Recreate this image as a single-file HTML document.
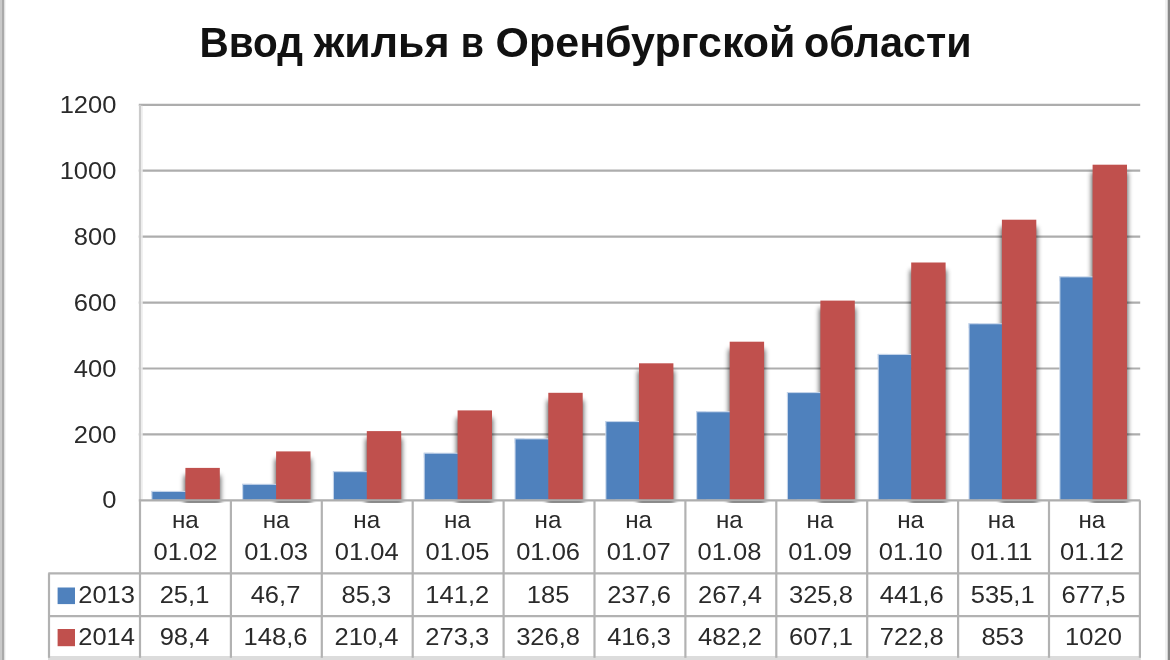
<!DOCTYPE html>
<html lang="ru">
<head>
<meta charset="utf-8">
<title>Ввод жилья в Оренбургской области</title>
<style>
html,body{margin:0;padding:0;background:#fff;}
body{width:1170px;height:660px;overflow:hidden;}
svg{display:block;}
text{font-family:"Liberation Sans",sans-serif;fill:#2a2a2a;}
.t{font-weight:bold;font-size:41.9px;fill:#111;}
.n{font-size:24.2px;}
.g{stroke:#adadad;stroke-width:2.2;}
.v{stroke:#c4c4c4;stroke-width:2.4;}
.tb{stroke:#b2b2b2;stroke-width:2.2;}
</style>
</head>
<body>
<svg width="1170" height="660" viewBox="0 0 1170 660">
<defs>
<filter id="sh" filterUnits="userSpaceOnUse" x="0" y="0" width="1170" height="660"><feGaussianBlur stdDeviation="2.6"/></filter>
</defs>
<rect x="0" y="0" width="1170" height="660" fill="#ffffff"/>
<rect x="0" y="0" width="2" height="660" fill="#c9c9c9"/>
<rect x="2" y="0" width="2.3" height="660" fill="#aaaaaa"/>
<rect x="4.3" y="0" width="1" height="660" fill="#dedede"/>
<rect x="1168" y="0" width="2" height="660" fill="#888888"/>
<rect x="1167" y="0" width="1" height="660" fill="#d4d4d4"/>
<rect x="1165" y="0" width="2" height="660" fill="#f1f1f1"/>

<text class="t" x="199.5" y="57.0" textLength="103.5" lengthAdjust="spacingAndGlyphs">Ввод</text>
<text class="t" x="313.8" y="57.0" textLength="135.9" lengthAdjust="spacingAndGlyphs">жилья</text>
<text class="t" x="460.8" y="57.0" textLength="23.2" lengthAdjust="spacingAndGlyphs">в</text>
<text class="t" x="495.6" y="57.0" textLength="299.9" lengthAdjust="spacingAndGlyphs">Оренбургской</text>
<text class="t" x="804.1" y="57.0" textLength="167.5" lengthAdjust="spacingAndGlyphs">области</text>
<line class="g" x1="138.8" y1="104.8" x2="1140.2" y2="104.8"/>
<text class="n" transform="translate(116.4 112.9) scale(1.055 1)" text-anchor="end">1200</text>
<line class="g" x1="138.8" y1="170.7" x2="1140.2" y2="170.7"/>
<text class="n" transform="translate(116.4 178.8) scale(1.055 1)" text-anchor="end">1000</text>
<line class="g" x1="138.8" y1="236.6" x2="1140.2" y2="236.6"/>
<text class="n" transform="translate(116.4 244.7) scale(1.055 1)" text-anchor="end">800</text>
<line class="g" x1="138.8" y1="302.6" x2="1140.2" y2="302.6"/>
<text class="n" transform="translate(116.4 310.7) scale(1.055 1)" text-anchor="end">600</text>
<line class="g" x1="138.8" y1="368.5" x2="1140.2" y2="368.5"/>
<text class="n" transform="translate(116.4 376.6) scale(1.055 1)" text-anchor="end">400</text>
<line class="g" x1="138.8" y1="434.4" x2="1140.2" y2="434.4"/>
<text class="n" transform="translate(116.4 442.5) scale(1.055 1)" text-anchor="end">200</text>
<text class="n" transform="translate(116.4 508.4) scale(1.055 1)" text-anchor="end">0</text>
<rect x="138.9" y="104.8" width="2.2" height="395.5" fill="#cbcbcb"/>
<rect x="141.1" y="105.8" width="1.6" height="393.5" fill="#ececec"/>
<clipPath id="pc"><rect x="140.0" y="90" width="1006.2" height="412.8"/></clipPath>
<g clip-path="url(#pc)">
<rect x="184.2" y="475.4" width="36.6" height="35.4" fill="#000" opacity="0.6" filter="url(#sh)"/>
<rect x="274.9" y="458.9" width="36.6" height="51.9" fill="#000" opacity="0.6" filter="url(#sh)"/>
<rect x="365.6" y="438.6" width="36.6" height="72.2" fill="#000" opacity="0.6" filter="url(#sh)"/>
<rect x="456.4" y="417.9" width="36.6" height="92.9" fill="#000" opacity="0.6" filter="url(#sh)"/>
<rect x="547.1" y="400.3" width="36.6" height="110.5" fill="#000" opacity="0.6" filter="url(#sh)"/>
<rect x="637.8" y="370.8" width="36.6" height="140.0" fill="#000" opacity="0.6" filter="url(#sh)"/>
<rect x="728.5" y="349.2" width="36.6" height="161.6" fill="#000" opacity="0.6" filter="url(#sh)"/>
<rect x="819.2" y="308.1" width="36.6" height="202.7" fill="#000" opacity="0.6" filter="url(#sh)"/>
<rect x="910.0" y="270.0" width="36.6" height="240.8" fill="#000" opacity="0.6" filter="url(#sh)"/>
<rect x="1000.7" y="227.2" width="36.6" height="283.6" fill="#000" opacity="0.6" filter="url(#sh)"/>
<rect x="1091.4" y="172.2" width="36.6" height="338.6" fill="#000" opacity="0.6" filter="url(#sh)"/>
</g>
<rect x="151.3" y="490.9" width="10.0" height="9.4" fill="#c3d3e9"/>
<rect x="151.3" y="490.9" width="34.1" height="5.0" fill="#c3d3e9"/>
<rect x="152.4" y="492.0" width="33.5" height="7.7" fill="#4f81bd"/>
<rect x="185.4" y="467.9" width="34.4" height="31.8" fill="#c0504d"/>
<rect x="242.1" y="483.8" width="10.0" height="16.5" fill="#c3d3e9"/>
<rect x="242.1" y="483.8" width="34.0" height="5.0" fill="#c3d3e9"/>
<rect x="243.2" y="484.9" width="33.4" height="14.8" fill="#4f81bd"/>
<rect x="276.1" y="451.4" width="34.4" height="48.3" fill="#c0504d"/>
<rect x="332.9" y="471.1" width="10.0" height="29.2" fill="#c3d3e9"/>
<rect x="332.9" y="471.1" width="33.9" height="5.0" fill="#c3d3e9"/>
<rect x="334.0" y="472.2" width="33.3" height="27.5" fill="#4f81bd"/>
<rect x="366.8" y="431.1" width="34.4" height="68.6" fill="#c0504d"/>
<rect x="423.7" y="452.7" width="10.0" height="47.6" fill="#c3d3e9"/>
<rect x="423.7" y="452.7" width="33.9" height="5.0" fill="#c3d3e9"/>
<rect x="424.8" y="453.8" width="33.3" height="45.9" fill="#4f81bd"/>
<rect x="457.6" y="410.4" width="34.4" height="89.3" fill="#c0504d"/>
<rect x="514.5" y="438.3" width="10.0" height="62.0" fill="#c3d3e9"/>
<rect x="514.5" y="438.3" width="33.8" height="5.0" fill="#c3d3e9"/>
<rect x="515.6" y="439.4" width="33.2" height="60.3" fill="#4f81bd"/>
<rect x="548.3" y="392.8" width="34.4" height="106.9" fill="#c0504d"/>
<rect x="605.3" y="421.0" width="10.0" height="79.3" fill="#c3d3e9"/>
<rect x="605.3" y="421.0" width="33.7" height="5.0" fill="#c3d3e9"/>
<rect x="606.4" y="422.1" width="33.1" height="77.6" fill="#4f81bd"/>
<rect x="639.0" y="363.3" width="34.4" height="136.4" fill="#c0504d"/>
<rect x="696.1" y="411.2" width="10.0" height="89.1" fill="#c3d3e9"/>
<rect x="696.1" y="411.2" width="33.6" height="5.0" fill="#c3d3e9"/>
<rect x="697.2" y="412.3" width="33.0" height="87.4" fill="#4f81bd"/>
<rect x="729.7" y="341.7" width="34.4" height="158.0" fill="#c0504d"/>
<rect x="786.9" y="392.0" width="10.0" height="108.3" fill="#c3d3e9"/>
<rect x="786.9" y="392.0" width="33.5" height="5.0" fill="#c3d3e9"/>
<rect x="788.0" y="393.1" width="32.9" height="106.6" fill="#4f81bd"/>
<rect x="820.4" y="300.6" width="34.4" height="199.1" fill="#c0504d"/>
<rect x="877.7" y="353.9" width="10.0" height="146.4" fill="#c3d3e9"/>
<rect x="877.7" y="353.9" width="33.5" height="5.0" fill="#c3d3e9"/>
<rect x="878.8" y="355.0" width="32.9" height="144.7" fill="#4f81bd"/>
<rect x="911.2" y="262.5" width="34.4" height="237.2" fill="#c0504d"/>
<rect x="968.5" y="323.2" width="10.0" height="177.1" fill="#c3d3e9"/>
<rect x="968.5" y="323.2" width="33.4" height="5.0" fill="#c3d3e9"/>
<rect x="969.6" y="324.3" width="32.8" height="175.4" fill="#4f81bd"/>
<rect x="1001.9" y="219.7" width="34.4" height="280.0" fill="#c0504d"/>
<rect x="1059.3" y="276.3" width="10.0" height="224.0" fill="#c3d3e9"/>
<rect x="1059.3" y="276.3" width="33.3" height="5.0" fill="#c3d3e9"/>
<rect x="1060.4" y="277.4" width="32.7" height="222.3" fill="#4f81bd"/>
<rect x="1092.6" y="164.7" width="34.4" height="335.0" fill="#c0504d"/>
<line class="g" x1="138.8" y1="500.3" x2="1140.2" y2="500.3"/>
<line class="tb" x1="48.3" y1="573.3" x2="1140.8" y2="573.3"/>
<line class="tb" x1="48.3" y1="616.2" x2="1140.8" y2="616.2"/>
<rect x="48" y="656" width="1092.8" height="4" fill="#dcdcdc"/>
<line class="tb" x1="49" y1="573.3" x2="49" y2="657.8"/>
<line class="tb" x1="140.0" y1="500.3" x2="140.0" y2="657.8"/>
<line class="tb" x1="230.9" y1="500.3" x2="230.9" y2="657.8"/>
<line class="tb" x1="321.8" y1="500.3" x2="321.8" y2="657.8"/>
<line class="tb" x1="412.7" y1="500.3" x2="412.7" y2="657.8"/>
<line class="tb" x1="503.6" y1="500.3" x2="503.6" y2="657.8"/>
<line class="tb" x1="594.5" y1="500.3" x2="594.5" y2="657.8"/>
<line class="tb" x1="685.4" y1="500.3" x2="685.4" y2="657.8"/>
<line class="tb" x1="776.3" y1="500.3" x2="776.3" y2="657.8"/>
<line class="tb" x1="867.2" y1="500.3" x2="867.2" y2="657.8"/>
<line class="tb" x1="958.1" y1="500.3" x2="958.1" y2="657.8"/>
<line class="tb" x1="1049.0" y1="500.3" x2="1049.0" y2="657.8"/>
<line class="tb" x1="1139.9" y1="500.3" x2="1139.9" y2="657.8"/>
<rect x="57.6" y="587.5" width="17.4" height="16.6" fill="#4f81bd"/>
<rect x="57.6" y="629" width="17.4" height="17.2" fill="#c0504d"/>
<text class="n" transform="translate(78.2 602.9) scale(1.055 1)" text-anchor="start">2013</text>
<text class="n" transform="translate(78.2 644.8) scale(1.055 1)" text-anchor="start">2014</text>
<text class="n" x="185.4" y="528" text-anchor="middle">на</text>
<text class="n" transform="translate(185.5 560.2) scale(1.055 1)" text-anchor="middle">01.02</text>
<text class="n" transform="translate(184.5 602.9) scale(1.055 1)" text-anchor="middle">25,1</text>
<text class="n" transform="translate(184.5 644.8) scale(1.055 1)" text-anchor="middle">98,4</text>
<text class="n" x="276.1" y="528" text-anchor="middle">на</text>
<text class="n" transform="translate(276.1 560.2) scale(1.055 1)" text-anchor="middle">01.03</text>
<text class="n" transform="translate(275.5 602.9) scale(1.055 1)" text-anchor="middle">46,7</text>
<text class="n" transform="translate(275.5 644.8) scale(1.055 1)" text-anchor="middle">148,6</text>
<text class="n" x="366.7" y="528" text-anchor="middle">на</text>
<text class="n" transform="translate(366.8 560.2) scale(1.055 1)" text-anchor="middle">01.04</text>
<text class="n" transform="translate(366.4 602.9) scale(1.055 1)" text-anchor="middle">85,3</text>
<text class="n" transform="translate(366.4 644.8) scale(1.055 1)" text-anchor="middle">210,4</text>
<text class="n" x="457.4" y="528" text-anchor="middle">на</text>
<text class="n" transform="translate(457.5 560.2) scale(1.055 1)" text-anchor="middle">01.05</text>
<text class="n" transform="translate(457.3 602.9) scale(1.055 1)" text-anchor="middle">141,2</text>
<text class="n" transform="translate(457.3 644.8) scale(1.055 1)" text-anchor="middle">273,3</text>
<text class="n" x="548.0" y="528" text-anchor="middle">на</text>
<text class="n" transform="translate(548.1 560.2) scale(1.055 1)" text-anchor="middle">01.06</text>
<text class="n" transform="translate(548.1 602.9) scale(1.055 1)" text-anchor="middle">185</text>
<text class="n" transform="translate(548.1 644.8) scale(1.055 1)" text-anchor="middle">326,8</text>
<text class="n" x="638.6" y="528" text-anchor="middle">на</text>
<text class="n" transform="translate(638.8 560.2) scale(1.055 1)" text-anchor="middle">01.07</text>
<text class="n" transform="translate(639.1 602.9) scale(1.055 1)" text-anchor="middle">237,6</text>
<text class="n" transform="translate(639.1 644.8) scale(1.055 1)" text-anchor="middle">416,3</text>
<text class="n" x="729.3" y="528" text-anchor="middle">на</text>
<text class="n" transform="translate(729.4 560.2) scale(1.055 1)" text-anchor="middle">01.08</text>
<text class="n" transform="translate(730.0 602.9) scale(1.055 1)" text-anchor="middle">267,4</text>
<text class="n" transform="translate(730.0 644.8) scale(1.055 1)" text-anchor="middle">482,2</text>
<text class="n" x="820.0" y="528" text-anchor="middle">на</text>
<text class="n" transform="translate(820.1 560.2) scale(1.055 1)" text-anchor="middle">01.09</text>
<text class="n" transform="translate(820.9 602.9) scale(1.055 1)" text-anchor="middle">325,8</text>
<text class="n" transform="translate(820.9 644.8) scale(1.055 1)" text-anchor="middle">607,1</text>
<text class="n" x="910.6" y="528" text-anchor="middle">на</text>
<text class="n" transform="translate(910.7 560.2) scale(1.055 1)" text-anchor="middle">01.10</text>
<text class="n" transform="translate(911.8 602.9) scale(1.055 1)" text-anchor="middle">441,6</text>
<text class="n" transform="translate(911.8 644.8) scale(1.055 1)" text-anchor="middle">722,8</text>
<text class="n" x="1001.2" y="528" text-anchor="middle">на</text>
<text class="n" transform="translate(1001.4 560.2) scale(1.055 1)" text-anchor="middle">01.11</text>
<text class="n" transform="translate(1002.7 602.9) scale(1.055 1)" text-anchor="middle">535,1</text>
<text class="n" transform="translate(1002.7 644.8) scale(1.055 1)" text-anchor="middle">853</text>
<text class="n" x="1091.9" y="528" text-anchor="middle">на</text>
<text class="n" transform="translate(1092.0 560.2) scale(1.055 1)" text-anchor="middle">01.12</text>
<text class="n" transform="translate(1093.5 602.9) scale(1.055 1)" text-anchor="middle">677,5</text>
<text class="n" transform="translate(1093.5 644.8) scale(1.055 1)" text-anchor="middle">1020</text>
</svg>
</body>
</html>
